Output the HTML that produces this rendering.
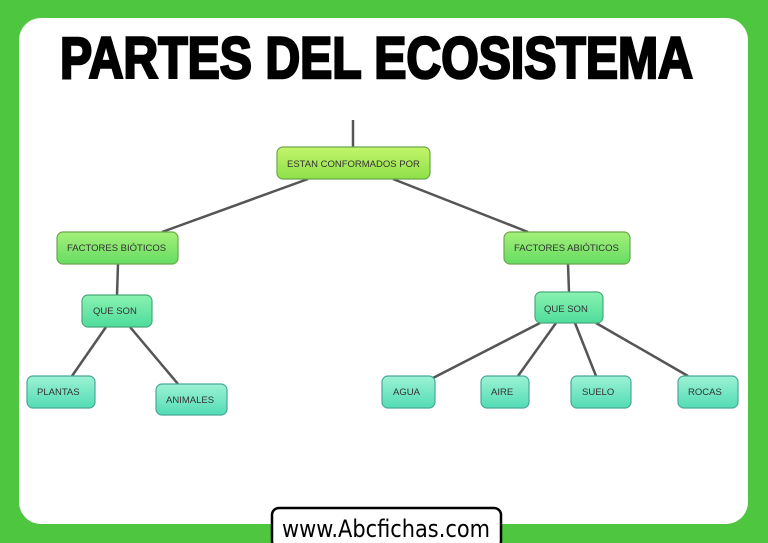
<!DOCTYPE html>
<html><head><meta charset="utf-8"><style>
html,body{margin:0;padding:0;background:#4fc640;}
svg{display:block}
</style></head><body>
<svg width="768" height="543" viewBox="0 0 768 543" xmlns="http://www.w3.org/2000/svg">
<defs>
<linearGradient id="g1" x1="0" y1="0" x2="0" y2="1"><stop offset="0" stop-color="#c4f56a"/><stop offset="1" stop-color="#8ee04a"/></linearGradient>
<linearGradient id="g2" x1="0" y1="0" x2="0" y2="1"><stop offset="0" stop-color="#a4f07a"/><stop offset="1" stop-color="#66dc62"/></linearGradient>
<linearGradient id="g3" x1="0" y1="0" x2="0" y2="1"><stop offset="0" stop-color="#8af2b0"/><stop offset="1" stop-color="#4edc9c"/></linearGradient>
<linearGradient id="g4" x1="0" y1="0" x2="0" y2="1"><stop offset="0" stop-color="#9cf2d4"/><stop offset="1" stop-color="#52dcb4"/></linearGradient>
</defs>
<rect x="0" y="0" width="768" height="543" fill="#4fc640"/>
<rect x="19" y="18" width="729" height="506" rx="22" fill="#fff"/>
<text x="60" y="78" font-family="Liberation Sans, sans-serif" font-weight="bold" font-size="58" textLength="633" lengthAdjust="spacingAndGlyphs" stroke="#000" stroke-width="2.5" fill="#000">PARTES DEL ECOSISTEMA</text>
<g stroke="#555" stroke-width="2.5" fill="none">
<line x1="353" y1="120" x2="353" y2="147"/>
<line x1="308" y1="179" x2="162" y2="232"/>
<line x1="393" y1="179" x2="528" y2="232"/>
<line x1="118" y1="264" x2="117" y2="295"/>
<line x1="106" y1="327" x2="72" y2="376"/>
<line x1="130" y1="327" x2="178" y2="384"/>
<line x1="568" y1="264" x2="569" y2="292"/>
<line x1="540" y1="323" x2="433" y2="378"/>
<line x1="556" y1="323" x2="518" y2="376"/>
<line x1="575" y1="323" x2="596" y2="376"/>
<line x1="596" y1="323" x2="688" y2="376"/>
</g>
<g stroke="#6aa84a" stroke-width="1.2" font-family="Liberation Sans, sans-serif" font-size="9.5">
<rect x="277" y="147" width="153" height="32" rx="6" fill="url(#g1)"/>
<rect x="57" y="232" width="121" height="32" rx="6" fill="url(#g2)"/>
<rect x="504" y="232" width="126" height="32" rx="6" fill="url(#g2)"/>
<rect x="82" y="295" width="70" height="32" rx="6" fill="url(#g3)" stroke="#4aa87a"/>
<rect x="535" y="292" width="68" height="31" rx="6" fill="url(#g3)" stroke="#4aa87a"/>
<rect x="27" y="376" width="68" height="32" rx="6" fill="url(#g4)" stroke="#4aa898"/>
<rect x="156" y="384" width="71" height="31" rx="6" fill="url(#g4)" stroke="#4aa898"/>
<rect x="382" y="376" width="53" height="32" rx="6" fill="url(#g4)" stroke="#4aa898"/>
<rect x="481" y="376" width="48" height="32" rx="6" fill="url(#g4)" stroke="#4aa898"/>
<rect x="571" y="376" width="60" height="32" rx="6" fill="url(#g4)" stroke="#4aa898"/>
<rect x="678" y="376" width="60" height="32" rx="6" fill="url(#g4)" stroke="#4aa898"/>
<g stroke="none" fill="#333">
<text x="287" y="167">ESTAN CONFORMADOS POR</text>
<text x="67" y="251">FACTORES BIÓTICOS</text>
<text x="514" y="251">FACTORES ABIÓTICOS</text>
<text x="93" y="314">QUE SON</text>
<text x="544" y="312">QUE SON</text>
<text x="37" y="395">PLANTAS</text>
<text x="166" y="403">ANIMALES</text>
<text x="393" y="395">AGUA</text>
<text x="491" y="395">AIRE</text>
<text x="582" y="395">SUELO</text>
<text x="688" y="395">ROCAS</text>
</g>
</g>
<rect x="272" y="508" width="229" height="40" rx="7" fill="#fff" stroke="#000" stroke-width="2.5"/>
<text x="386" y="537" text-anchor="middle" font-family="DejaVu Sans, sans-serif" font-size="24" textLength="208" lengthAdjust="spacingAndGlyphs" fill="#000">www.Abcfichas.com</text>
</svg>
</body></html>
